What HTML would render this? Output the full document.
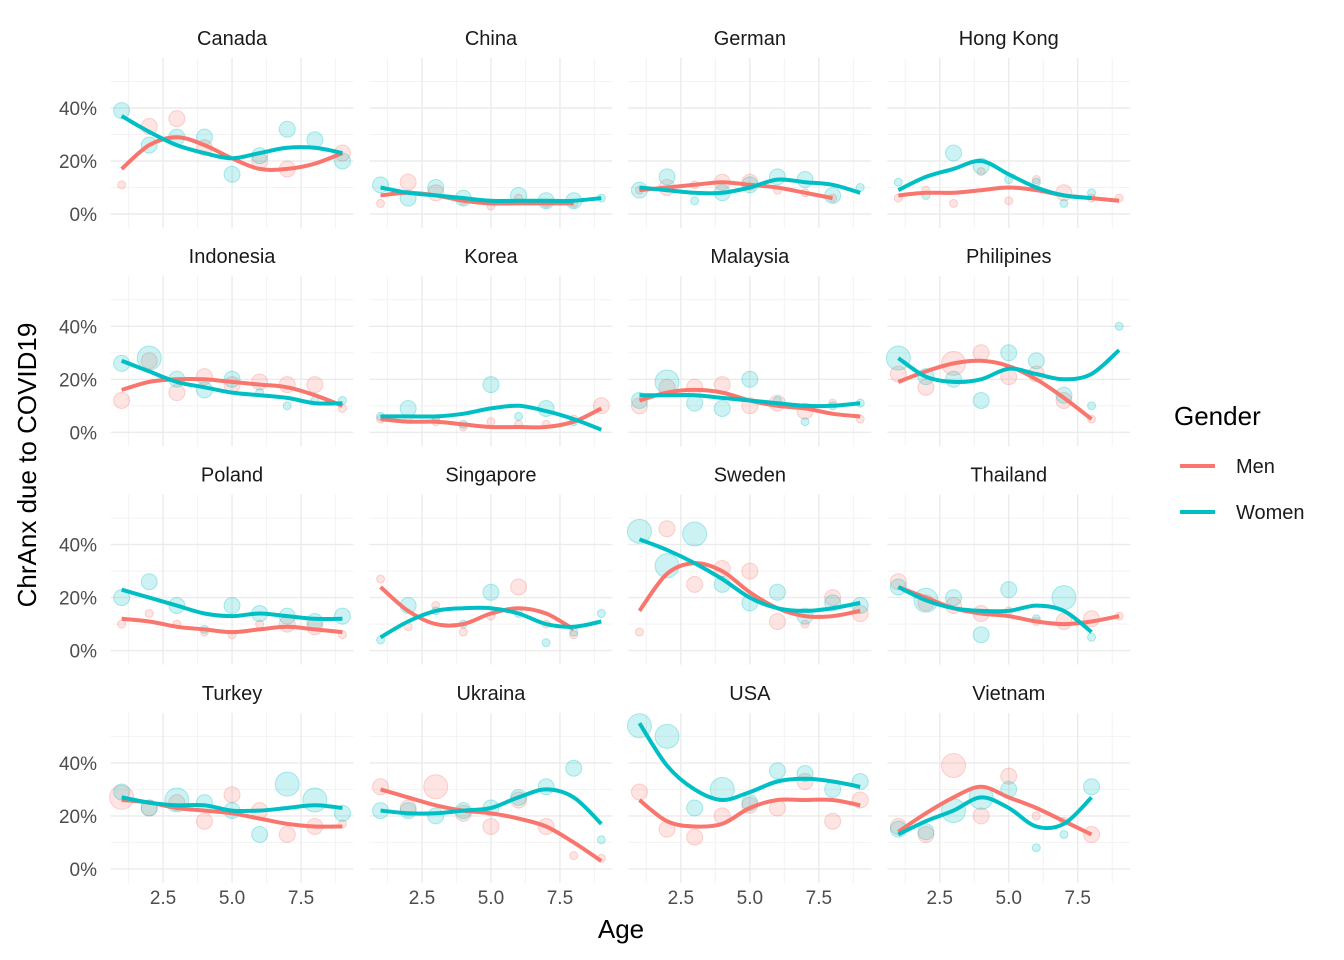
<!DOCTYPE html>
<html><head><meta charset="utf-8"><style>
html,body{margin:0;padding:0;background:#fff;}
svg{display:block;font-family:"Liberation Sans",sans-serif;}
</style></head><body>
<svg id="chart" width="1344" height="960" viewBox="0 0 1344 960" xmlns="http://www.w3.org/2000/svg">
<g id="panels"></g>
<text x="0" y="0" transform="translate(36,465) rotate(-90)" text-anchor="middle" font-size="26" fill="#000">ChrAnx due to COVID19</text>
<text x="621" y="938" text-anchor="middle" font-size="26" fill="#000">Age</text>
<g>
<text x="1174" y="425" font-size="26" fill="#000">Gender</text>
<line x1="1180" x2="1215" y1="466" y2="466" stroke="#F8766D" stroke-width="4"/>
<text x="1236" y="473" font-size="20" fill="#1a1a1a">Men</text>
<line x1="1180" x2="1215" y1="512" y2="512" stroke="#00BFC4" stroke-width="4"/>
<text x="1236" y="519" font-size="20" fill="#1a1a1a">Women</text>
</g>
</svg>
<script>
const countries=["Canada","China","German","Hong Kong","Indonesia","Korea","Malaysia","Philipines","Poland","Singapore","Sweden","Thailand","Turkey","Ukraina","USA","Vietnam"];
const xTicks=[2.5,5.0,7.5];
const xTickLabels=["2.5","5.0","7.5"];
const yTicks=[0,0.2,0.4];
const yTickLabels=["0%","20%","40%"];
// points: [age, value, size 1-3]
const menPts=[
[[1,.11,1],[2,.33,2],[3,.36,2],[4,.25,2],[6,.20,2],[7,.17,2],[9,.23,2]],
[[1,.04,1],[2,.12,2],[3,.08,2],[4,.05,1],[5,.03,1],[6,.06,1],[7,.04,1],[8,.04,1]],
[[1,.09,1],[2,.10,2],[3,.11,1],[4,.12,2],[5,.12,2],[6,.09,1],[7,.08,1],[8,.06,1]],
[[1,.06,1],[2,.09,1],[3,.04,1],[4,.16,1],[5,.05,1],[6,.13,1],[7,.08,2],[8,.06,1],[9,.06,1]],
[[1,.12,2],[2,.27,2],[3,.15,2],[4,.21,2],[5,.18,2],[6,.19,2],[7,.18,2],[8,.18,2],[9,.09,1]],
[[1,.05,1],[2,.05,1],[3,.04,1],[4,.02,1],[5,.04,1],[6,.03,1],[7,.03,1],[8,.05,1],[9,.10,2]],
[[1,.10,2],[2,.17,2],[3,.17,2],[4,.18,2],[5,.10,2],[6,.11,2],[7,.08,2],[8,.11,1],[9,.05,1]],
[[1,.22,2],[2,.17,2],[3,.26,3],[4,.30,2],[5,.21,2],[6,.22,2],[7,.12,2],[8,.05,1]],
[[1,.10,1],[2,.14,1],[3,.10,1],[4,.07,1],[5,.06,1],[6,.10,1],[7,.10,2],[8,.09,2],[9,.06,1]],
[[1,.27,1],[2,.09,1],[3,.17,1],[4,.07,1],[5,.13,1],[6,.24,2],[7,.10,1],[8,.06,1]],
[[1,.07,1],[2,.46,2],[3,.25,2],[4,.31,2],[5,.30,2],[6,.11,2],[7,.10,1],[8,.20,2],[9,.14,2]],
[[1,.26,2],[2,.18,2],[3,.17,2],[4,.14,2],[5,.15,1],[6,.11,1],[7,.11,2],[8,.12,2],[9,.13,1]],
[[1,.27,3],[2,.23,2],[3,.25,2],[4,.18,2],[5,.28,2],[6,.22,2],[7,.13,2],[8,.16,2],[9,.17,1]],
[[1,.31,2],[2,.23,2],[3,.31,3],[4,.21,2],[5,.16,2],[6,.26,2],[7,.16,2],[8,.05,1],[9,.04,1]],
[[1,.29,2],[2,.15,2],[3,.12,2],[4,.20,2],[5,.24,2],[6,.23,2],[7,.33,2],[8,.18,2],[9,.26,2]],
[[1,.16,2],[2,.13,2],[3,.39,3],[4,.20,2],[5,.35,2],[6,.20,1],[7,.18,1],[8,.13,2]]
];
const womenPts=[
[[1,.39,2],[2,.26,2],[3,.29,2],[4,.29,2],[5,.15,2],[6,.22,2],[7,.32,2],[8,.28,2],[9,.20,2]],
[[1,.11,2],[2,.06,2],[3,.10,2],[4,.06,2],[6,.07,2],[7,.05,2],[8,.05,2],[9,.06,1]],
[[1,.09,2],[2,.14,2],[3,.05,1],[4,.08,2],[5,.11,2],[6,.14,2],[7,.13,2],[8,.07,2],[9,.10,1]],
[[1,.12,1],[2,.07,1],[3,.23,2],[4,.18,2],[5,.13,1],[6,.12,1],[7,.04,1],[8,.08,1]],
[[1,.26,2],[2,.28,3],[3,.20,2],[4,.16,2],[5,.20,2],[6,.15,1],[7,.10,1],[8,.12,1],[9,.12,1]],
[[1,.06,1],[2,.09,2],[3,.05,1],[4,.03,1],[5,.18,2],[6,.06,1],[7,.09,2],[8,.04,1]],
[[1,.12,2],[2,.19,3],[3,.11,2],[4,.09,2],[5,.20,2],[6,.12,1],[7,.04,1],[8,.10,1],[9,.11,1]],
[[1,.28,3],[2,.21,2],[3,.20,2],[4,.12,2],[5,.30,2],[6,.27,2],[7,.14,2],[8,.10,1],[9,.40,1]],
[[1,.20,2],[2,.26,2],[3,.17,2],[4,.08,1],[5,.17,2],[6,.14,2],[7,.13,2],[8,.11,2],[9,.13,2]],
[[1,.04,1],[2,.17,2],[3,.15,1],[4,.10,1],[5,.22,2],[6,.14,1],[7,.03,1],[8,.07,1],[9,.14,1]],
[[1,.45,3],[2,.32,3],[3,.44,3],[4,.25,2],[5,.18,2],[6,.22,2],[7,.13,2],[8,.18,2],[9,.17,2]],
[[1,.24,2],[2,.19,3],[3,.20,2],[4,.06,2],[5,.23,2],[6,.12,1],[7,.20,3],[8,.05,1]],
[[1,.29,2],[2,.23,2],[3,.26,3],[4,.25,2],[5,.22,2],[6,.13,2],[7,.32,3],[8,.26,3],[9,.21,2]],
[[1,.22,2],[2,.22,2],[3,.20,2],[4,.22,2],[5,.23,2],[6,.27,2],[7,.31,2],[8,.38,2],[9,.11,1]],
[[1,.54,3],[2,.50,3],[3,.23,2],[4,.30,3],[5,.25,2],[6,.37,2],[7,.36,2],[8,.30,2],[9,.33,2]],
[[1,.15,2],[2,.14,2],[3,.22,3],[4,.27,3],[5,.30,2],[6,.08,1],[7,.13,1],[8,.31,2]]
];
// smoothed fits, values at age 1,2,3,...
const menFit=[
[.17,.26,.29,.26,.21,.17,.17,.19,.23],[.07,.08,.07,.05,.04,.04,.04,.04],[.09,.10,.11,.12,.11,.10,.08,.06],[.07,.08,.08,.09,.10,.09,.07,.06,.05],
[.16,.19,.20,.20,.19,.18,.17,.14,.10],[.05,.04,.04,.03,.02,.02,.02,.04,.09],[.12,.15,.16,.15,.12,.10,.09,.07,.06],[.19,.23,.26,.27,.25,.20,.13,.05],
[.12,.11,.09,.08,.07,.08,.09,.08,.07],[.24,.15,.10,.10,.14,.16,.14,.08],[.15,.29,.33,.30,.22,.16,.13,.13,.15],[.24,.20,.16,.14,.13,.11,.10,.11,.13],
[.26,.25,.23,.22,.21,.19,.17,.16,.16],[.30,.27,.24,.22,.21,.19,.16,.10,.03],[.26,.18,.16,.17,.23,.26,.26,.26,.24],[.14,.21,.27,.31,.27,.23,.18,.13]
];
const womenFit=[
[.37,.31,.26,.23,.21,.23,.25,.25,.23],[.10,.08,.07,.06,.05,.05,.05,.05,.06],[.10,.09,.08,.08,.10,.13,.12,.11,.08],[.09,.14,.17,.20,.15,.10,.07,.06],
[.27,.23,.19,.17,.15,.14,.13,.11,.11],[.06,.06,.06,.07,.09,.10,.08,.05,.01],[.14,.14,.14,.13,.12,.11,.10,.10,.11],[.28,.21,.19,.20,.24,.22,.20,.22,.31],
[.23,.20,.17,.14,.13,.14,.13,.12,.12],[.05,.11,.15,.16,.16,.14,.10,.09,.11],[.42,.38,.33,.27,.20,.16,.15,.16,.18],[.24,.19,.16,.15,.15,.17,.15,.07],
[.27,.25,.24,.24,.22,.22,.23,.24,.23],[.22,.21,.21,.22,.23,.27,.30,.27,.17],[.55,.39,.30,.26,.29,.33,.34,.33,.31],[.13,.18,.22,.27,.23,.16,.17,.27]
];
const NS="http://www.w3.org/2000/svg";
const root=document.getElementById('panels');
const X0=0.6,X1=9.4,Y0=-0.053,Y1=0.589,PW=242.9,PX=27.6,YS=265;
function mk(t,a,p){const e=document.createElementNS(NS,t);for(const k in a)e.setAttribute(k,a[k]);p.appendChild(e);return e;}
function smoothPath(pts){let d=`M${pts[0][0]},${pts[0][1]}`;
for(let i=0;i<pts.length-1;i++){const p0=pts[Math.max(i-1,0)],p1=pts[i],p2=pts[i+1],p3=pts[Math.min(i+2,pts.length-1)];
const c1=[p1[0]+(p2[0]-p0[0])/6,p1[1]+(p2[1]-p0[1])/6],c2=[p2[0]-(p3[0]-p1[0])/6,p2[1]-(p3[1]-p1[1])/6];
d+=` C${c1[0].toFixed(1)},${c1[1].toFixed(1)} ${c2[0].toFixed(1)},${c2[1].toFixed(1)} ${p2[0].toFixed(1)},${p2[1].toFixed(1)}`;}return d;}
const rad=[0,4,8,12];
countries.forEach((c,i)=>{
const col=i%4,row=Math.floor(i/4);
const left=110.6+col*258.9, y0px=214+row*218.3;
const sx=v=>left+(v-X0)*PX, sy=v=>y0px-v*YS;
const top=sy(Y1),bot=sy(Y0);
const g=mk('g',{},root);


const st=mk('text',{x:left+PW/2,y:top-13,'text-anchor':'middle','font-size':20,fill:'#1a1a1a'},g);


st.textContent=c;
[1.25,3.75,6.25,8.75].forEach(v=>{const l=mk('line',{x1:sx(v),x2:sx(v),y1:top,y2:bot,stroke:'#f3f3f3','stroke-width':1},g);});
[0.1,0.3,0.5].forEach(v=>{const l=mk('line',{x1:left,x2:left+PW,y1:sy(v),y2:sy(v),stroke:'#f3f3f3','stroke-width':1},g);});
xTicks.forEach((v,k)=>{const l=mk('line',{x1:sx(v),x2:sx(v),y1:top,y2:bot,stroke:'#ebebeb','stroke-width':1.4},g);
if(row===3){const t=mk('text',{x:sx(v),y:bot+21,'text-anchor':'middle','font-size':19,fill:'#4d4d4d'},g);t.textContent=xTickLabels[k];}});
yTicks.forEach((v,k)=>{const l=mk('line',{x1:left,x2:left+PW,y1:sy(v),y2:sy(v),stroke:'#ebebeb','stroke-width':1.4},g);
if(col===0){const t=mk('text',{x:97,y:sy(v)+7,'text-anchor':'end','font-size':19,fill:'#4d4d4d'},g);t.textContent=yTickLabels[k];}});
[[menPts[i],'#F8766D'],[womenPts[i],'#00BFC4']].forEach(([pts,clr])=>{pts.forEach(p=>{
const ci=mk('circle',{cx:sx(p[0]),cy:sy(p[1]),r:rad[p[2]],fill:clr,'fill-opacity':0.2,stroke:clr,'stroke-opacity':0.3,'stroke-width':1},g);

});});
[[menFit[i],'#F8766D','men'],[womenFit[i],'#00BFC4','women']].forEach(([f,clr,n])=>{
const pts=f.map((v,k)=>[sx(k+1),sy(v)]);
const p=mk('path',{d:smoothPath(pts),fill:'none',stroke:clr,'stroke-width':4,'stroke-linecap':'butt'},g);

});
});
</script>
</body></html>
